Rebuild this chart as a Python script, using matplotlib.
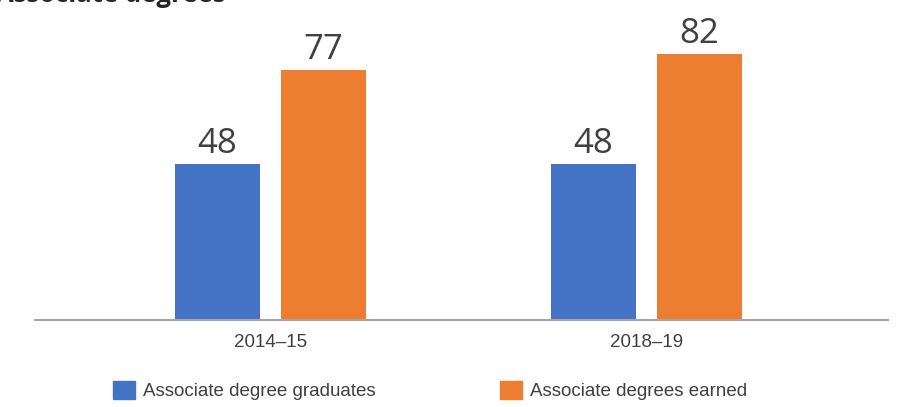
import matplotlib
matplotlib.use("Agg")
import matplotlib.pyplot as plt
from matplotlib.patches import Patch
import numpy as np

# data
periods = ["2014\u201315", "2018\u201319"]
graduates = [48, 48]
earned = [77, 82]
series_names = ["Associate degree graduates", "Associate degrees earned"]

BLUE = "#4472C4"
ORANGE = "#ED7D31"
TEXT = "#404040"

plt.rcParams["font.family"] = ["Liberation Sans", "DejaVu Sans"]

fig = plt.figure(figsize=(9, 4.07), dpi=100)
ax = fig.add_axes([35 / 900, (407 - 320) / 407, (888 - 35) / 900, 320 / 407])

x = np.arange(len(periods))
w = 0.226
off = 0.141
b1 = ax.bar(x - off, graduates, w, color=BLUE)
b2 = ax.bar(x + off, earned, w, color=ORANGE)

for bars in (b1, b2):
    for r in bars:
        ax.annotate(str(int(r.get_height())), (r.get_x() + r.get_width() / 2, r.get_height()),
                    xytext=(0, 2), textcoords="offset points", ha="center", va="bottom",
                    fontsize=25, color=TEXT, family=["Open Sans", "DejaVu Sans"])

ax.set_xlim(-0.627, 1.644)
ax.set_ylim(0, 98.5)
ax.set_xticks(x)
ax.set_xticklabels(periods, fontsize=13.5, color=TEXT)
ax.tick_params(axis="x", length=0, pad=10)
ax.set_yticks([])
for s in ("top", "right", "left"):
    ax.spines[s].set_visible(False)
ax.spines["bottom"].set_color("#A6A6A6")
ax.spines["bottom"].set_linewidth(1.5)

# title clipped at the top edge, as in the reference
fig.text(-0.004, 1 - 2.2 / 407, "Associate degrees", fontsize=18.5, fontweight="bold",
         color="#262626", ha="left", va="baseline", family=["Open Sans", "DejaVu Sans"])

handles = [Patch(color=BLUE), Patch(color=ORANGE)]
fig.legend(handles, series_names, loc="lower left", bbox_to_anchor=(113 / 900, 7 / 407),
           ncol=2, frameon=False, fontsize=13.5, handlelength=1.17, handleheight=1.1,
           handletextpad=0.45, columnspacing=6.6, borderpad=0, borderaxespad=0,
           labelcolor=TEXT)

fig.savefig("out.png", dpi=100)
